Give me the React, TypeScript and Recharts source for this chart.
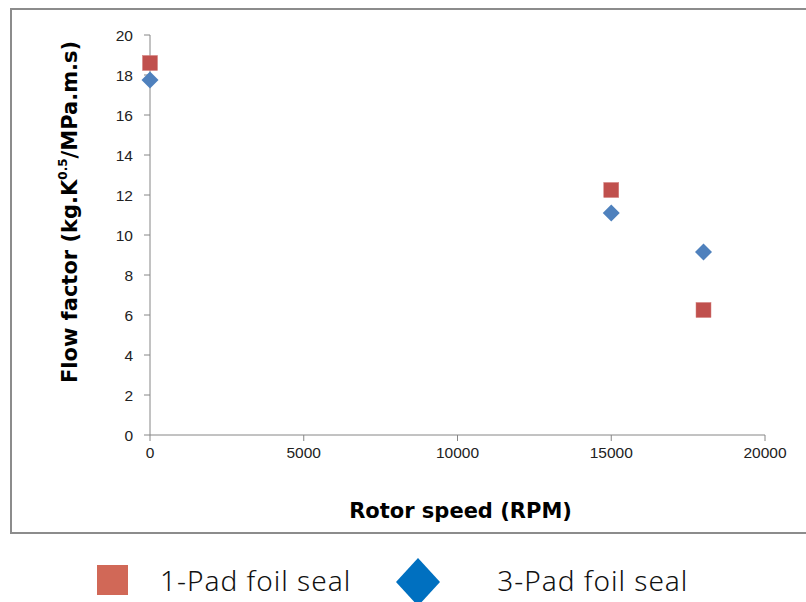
import { Scatter, ScatterChart, XAxis, YAxis, Label } from "recharts";

const onePad = [
  { rpm: 0, flow: 18.6 },
  { rpm: 15000, flow: 12.25 },
  { rpm: 18000, flow: 6.25 },
];
const threePad = [
  { rpm: 0, flow: 17.75 },
  { rpm: 15000, flow: 11.1 },
  { rpm: 18000, flow: 9.15 },
];
const xTicks = [0, 5000, 10000, 15000, 20000];
const yTicks = [0, 2, 4, 6, 8, 10, 12, 14, 16, 18, 20];

const RED = "#C0504D";
const BLUE = "#4F81BD";
const AXIS = "#868686";
const TICK_FONT = "'Liberation Sans', Arial, sans-serif";
const BOLD_FONT = "'DejaVu Sans', Verdana, sans-serif";

const SquareDot = (p: any) => (
  <rect x={p.cx - 7.5} y={p.cy - 7.5} width={15} height={15} fill={RED} stroke="#D47F7C" strokeWidth={0.5} />
);
const DiamondDot = (p: any) => (
  <path
    d={`M${p.cx},${p.cy - 8.5} L${p.cx + 8.5},${p.cy} L${p.cx},${p.cy + 8.5} L${p.cx - 8.5},${p.cy} Z`}
    fill={BLUE}
  />
);

const YLabel = (props: any) => {
  const vb = props.viewBox;
  const cx = vb.x + 60;
  const cy = vb.y + 177;
  return (
    <text
      x={cx}
      y={cy}
      transform={`rotate(-90, ${cx}, ${cy})`}
      textAnchor="middle"
      dominantBaseline="central"
      fontFamily={BOLD_FONT}
      fontWeight="bold"
      fontSize={21}
      fill="#000"
    >
      Flow factor (kg.K
      <tspan dy={-7} fontSize={12}>0.5</tspan>
      <tspan dy={7}>/MPa.m.s)</tspan>
    </text>
  );
};

const XLabel = (props: any) => {
  const vb = props.viewBox;
  return (
    <text
      x={vb.x + vb.width / 2 + 3}
      y={vb.y + 76}
      textAnchor="middle"
      dominantBaseline="central"
      fontFamily={BOLD_FONT}
      fontWeight="bold"
      fontSize={21}
      fill="#000"
    >
      Rotor speed (RPM)
    </text>
  );
};

const legendItems = [
  { name: "1-Pad foil seal", kind: "square" },
  { name: "3-Pad foil seal", kind: "diamond" },
];

export default function App() {
  return (
    <div style={{ position: "absolute", left: 0, top: 0, width: 806, height: 602, background: "#fff", overflow: "hidden" }}>
      <div
        style={{
          position: "absolute",
          left: 10,
          top: 8,
          width: 810,
          height: 522,
          border: "2px solid #8C8C8C",
        }}
      />
      <div style={{ position: "absolute", left: 0, top: 0 }}>
        <ScatterChart width={806} height={540} margin={{ top: 35, right: 41, bottom: 45, left: 10 }}>
          <XAxis
            type="number"
            dataKey="rpm"
            domain={[0, 20000]}
            ticks={xTicks}
            height={60}
            stroke={AXIS}
            tickSize={6}
            tickMargin={6}
            tick={{ fill: "#222", fontSize: 15.5, fontFamily: TICK_FONT }}
          >
            <Label content={XLabel} />
          </XAxis>
          <YAxis
            type="number"
            dataKey="flow"
            domain={[0, 20]}
            ticks={yTicks}
            width={140}
            stroke={AXIS}
            tickSize={6}
            tickMargin={11}
            tick={{ fill: "#222", fontSize: 15.5, fontFamily: TICK_FONT }}
          >
            <Label content={YLabel} />
          </YAxis>
          <Scatter name="1-Pad foil seal" data={onePad} fill={RED} shape={SquareDot} isAnimationActive={false} />
          <Scatter name="3-Pad foil seal" data={threePad} fill={BLUE} shape={DiamondDot} isAnimationActive={false} />
        </ScatterChart>
      </div>
      <div
        style={{
          position: "absolute",
          left: 97,
          top: 556,
          display: "flex",
          alignItems: "center",
          fontFamily: "'Noto Sans', sans-serif",
          fontSize: 28,
          letterSpacing: 1,
          color: "#111",
          fontWeight: 300,
        }}
      >
        {legendItems.map((it, i) => (
          <div key={it.name} style={{ display: "flex", alignItems: "center", marginRight: i === 0 ? 44 : 0 }}>
            {it.kind === "square" ? (
              <div style={{ width: 31, height: 30, background: "#D16857" }} />
            ) : (
              <svg width={46} height={48} style={{ overflow: "visible" }}>
                <path d="M23,2 L45,26 L23,50 L1,26 Z" fill="#0070C0" />
              </svg>
            )}
            <span style={{ marginLeft: it.kind === "square" ? 32 : 56 }}>{it.name}</span>
          </div>
        ))}
      </div>
    </div>
  );
}
